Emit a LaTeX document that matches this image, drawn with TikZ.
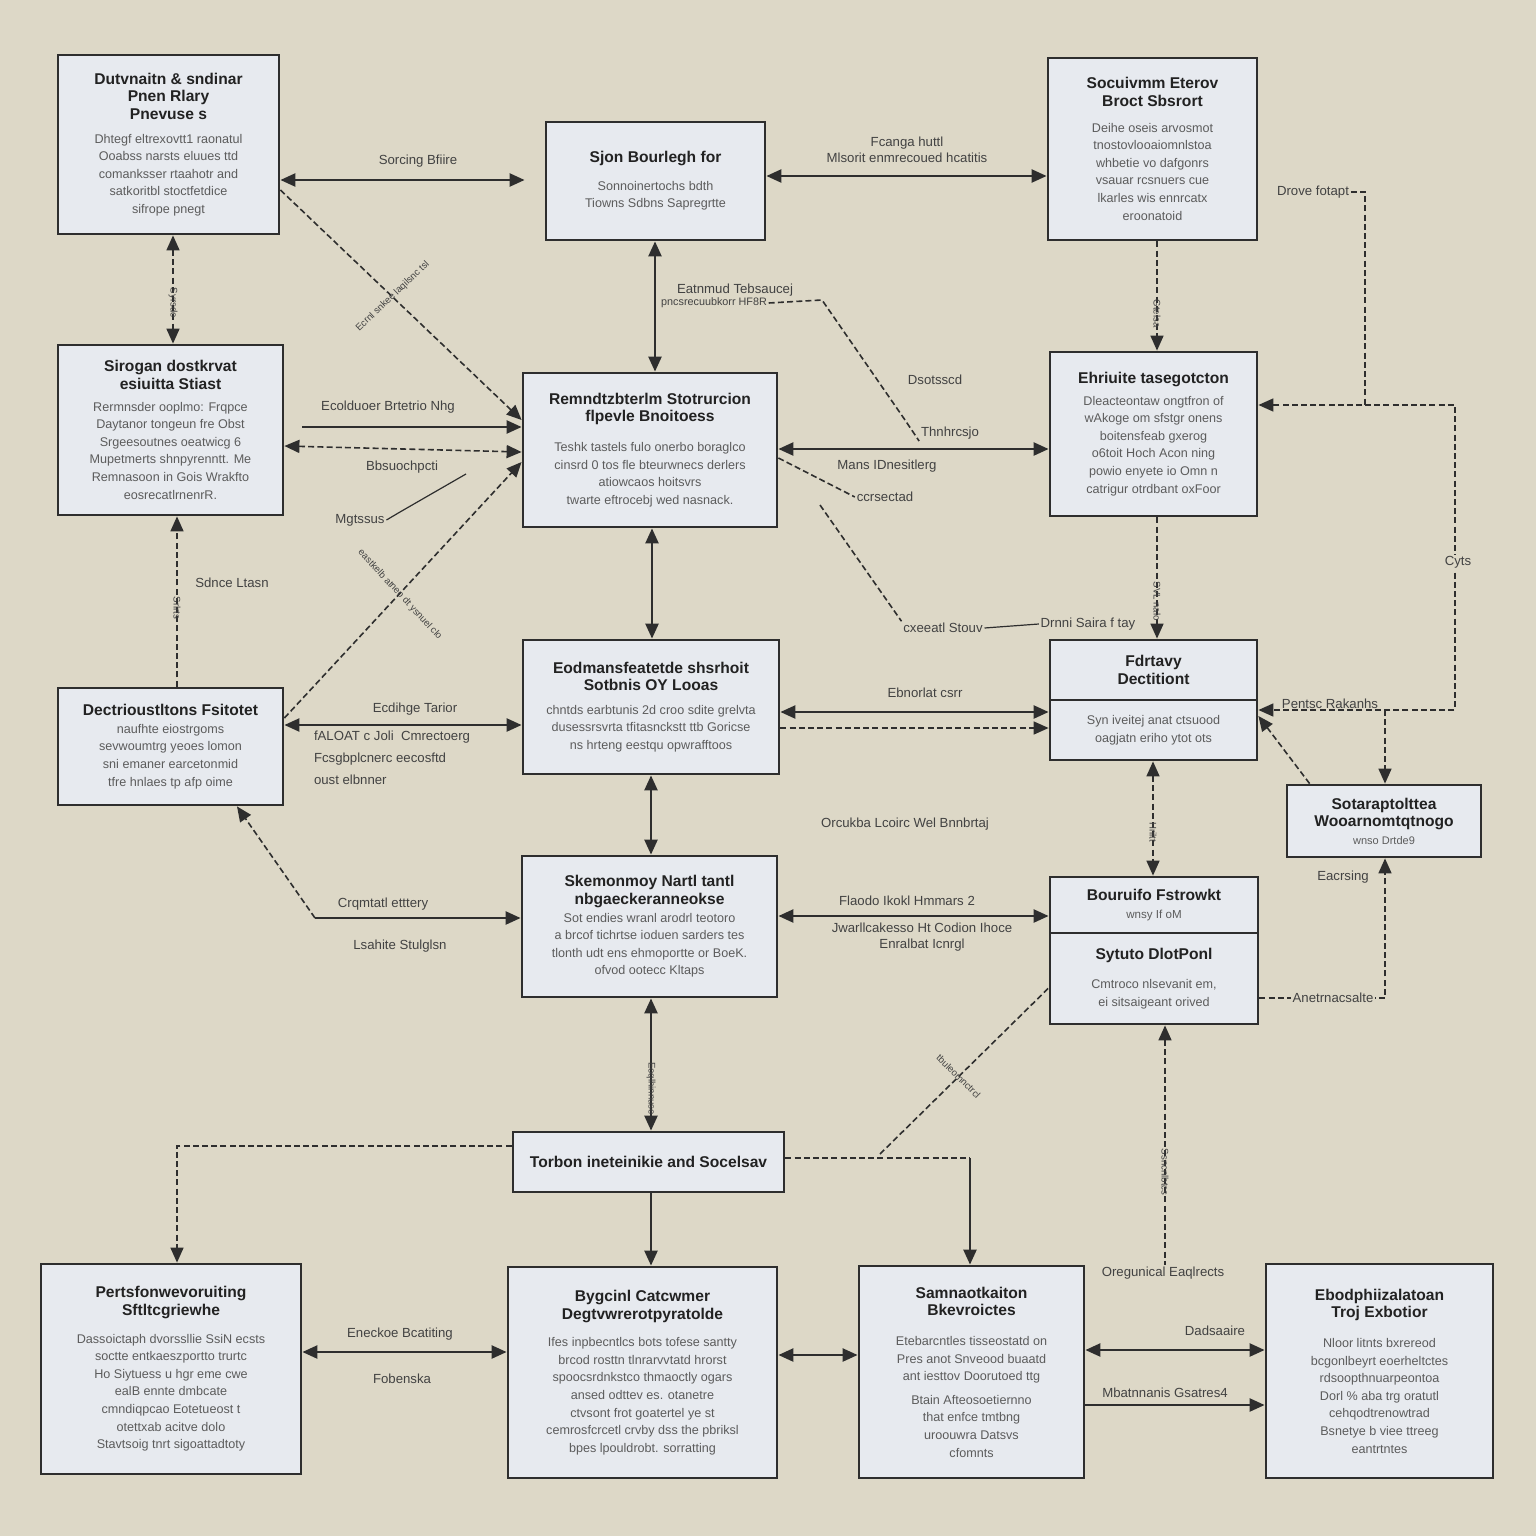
\documentclass[tikz,border=0pt]{standalone}
\usepackage{fontspec}
\setmainfont{Liberation Sans}
\usetikzlibrary{arrows.meta}
\definecolor{paper}{RGB}{221,216,199}
\definecolor{boxfill}{RGB}{231,234,239}
\definecolor{edge}{RGB}{46,46,46}
\definecolor{ink}{RGB}{34,34,34}
\definecolor{grey}{RGB}{92,92,92}
\definecolor{label}{RGB}{66,66,66}
\newcommand{\hd}[1]{{\color{ink}\fontsize{7.8}{9}\selectfont\bfseries #1}}

\begin{document}
\begin{tikzpicture}[x=0.5pt,y=0.5pt,yscale=-1,
    box/.style 2 args={draw=edge,line width=1.4pt,fill=boxfill,align=center,inner sep=2pt,
        minimum width=#1*0.5pt,minimum height=#2*0.5pt,text=grey,
        font=\fontsize{6.3}{8.8}\selectfont},
    lbl/.style={text=label,font=\fontsize{6.6}{8}\selectfont,inner sep=0.75pt,align=center},
    vlbl/.style={text=label,font=\fontsize{4.8}{5}\selectfont,inner sep=0.5pt,rotate=-90},
    link/.style={draw=edge,line width=1.2pt,>={Triangle[length=7.5pt,width=6.5pt]}},
    dlink/.style={link,line width=0.8pt,dash pattern=on 3pt off 1.6pt},
  ]
        %uncomment if require: \path (0,1536); %page is 1536 by 1536
        \fill[paper] (0,0) rectangle (1536,1536);
        \useasboundingbox (0,0) rectangle (1536,1536);

        %Shape: Box [id:A]
        \node[box={221}{179}] (A) at (168.5,144.5) {\hd{Dutvnaitn \& sndinar}\\ \hd{Pnen Rlary}\\ \hd{Pnevuse s}\\[3pt]
            Dhtegf eltrexovtt1 raonatul\\ Ooabss narsts eluues ttd\\ comanksser rtaahotr and\\ satkoritbl stoctfetdice\\ sifrope pnegt};
        %Shape: Box [id:B]
        \node[box={219}{118}] (B) at (655.5,181) {\hd{Sjon Bourlegh for}\\[5pt]
            Sonnoinertochs bdth\\ Tiowns Sdbns Sapregrtte};
        %Shape: Box [id:C]
        \node[box={209}{182}] (C) at (1152.5,149) {\hd{Socuivmm Eterov}\\ \hd{Broct Sbsrort}\\[4pt]
            Deihe oseis arvosmot\\ tnostovlooaiomnlstoa\\ whbetie vo dafgonrs\\ vsauar rcsnuers cue\\ lkarles wis ennrcatx\\ eroonatoid};
        %Shape: Box [id:D]
        \node[box={225}{170}] (D) at (170.5,430) {\hd{Sirogan dostkrvat}\\ \hd{esiuitta Stiast}\\[2pt]
            Rermnsder ooplmo: Frqpce\\ Daytanor tongeun fre Obst\\ Srgeesoutnes oeatwicg 6\\ Mupetmerts shnpyrenntt. Me\\ Remnasoon in Gois Wrakfto\\ eosrecatlrnenrR.};
        %Shape: Box [id:E]
        \node[box={254}{154}] (E) at (650,450) {\hd{Remndtzbterlm Stotrurcion}\\ \hd{flpevle Bnoitoess}\\[6pt]
            Teshk tastels fulo onerbo boraglco\\ cinsrd 0 tos fle bteurwnecs derlers\\ atiowcaos hoitsvrs\\ twarte eftrocebj wed nasnack.};
        %Shape: Box [id:F]
        \node[box={207}{164}] (F) at (1153.5,434) {\hd{Ehriuite tasegotcton}\\[2pt]
            Dleacteontaw ongtfron of\\ wAkoge om sfstgr onens\\ boitensfeab gxerog\\ o6toit Hoch Acon ning\\ powio enyete io Omn n\\ catrigur otrdbant oxFoor};
        %Shape: Box [id:G]
        \node[box={225}{117}] (G) at (170.5,746.5) {\hd{Dectrioustltons Fsitotet}\\
            naufhte eiostrgoms\\ sevwoumtrg yeoes lomon\\ sni emaner earcetonmid\\ tfre hnlaes tp afp oime};
        %Shape: Box [id:H]
        \node[box={256}{134}] (H) at (651,707) {\hd{Eodmansfeatetde shsrhoit}\\ \hd{Sotbnis OY Looas}\\[3pt]
            chntds earbtunis 2d croo sdite grelvta\\ dusessrsvrta tfitasnckstt ttb Goricse\\ ns hrteng eestqu opwrafftoos};
        %Shape: Box [id:It]
        \node[box={207}{60}] (It) at (1153.5,670) {\hd{Fdrtavy}\\ \hd{Dectitiont}};
        %Shape: Box [id:Ib]
        \node[box={207}{60}] (Ib) at (1153.5,730) {Syn iveitej anat ctsuood\\ oagjatn eriho ytot ots};
        %Shape: Box [id:J]
        \node[box={194}{72}] (J) at (1384,821) {\hd{Sotaraptolttea}\\ \hd{Wooarnomtqtnogo}\\ {\fontsize{5.5}{6}\selectfont wnso Drtde9}};
        %Shape: Box [id:K]
        \node[box={255}{141}] (K) at (649.5,926.5) {\hd{Skemonmoy Nartl tantl}\\ \hd{nbgaeckeranneokse}\\
            Sot endies wranl arodrl teotoro\\ a brcof tichrtse ioduen sarders tes\\ tlonth udt ens ehmoportte or BoeK.\\ ofvod ootecc Kltaps};
        %Shape: Box [id:Lt]
        \node[box={208}{56}] (Lt) at (1154,905) {\hd{Bouruifo Fstrowkt}\\ {\fontsize{5.8}{7}\selectfont wnsy If oM}};
        %Shape: Box [id:Lb]
        \node[box={208}{91}] (Lb) at (1154,978.5) {\hd{Sytuto DlotPonl}\\[6pt]
            Cmtroco nlsevanit em,\\ ei sitsaigeant orived};
        %Shape: Box [id:M]
        \node[box={271}{60}] (M) at (648.5,1162) {\hd{Torbon ineteinikie and Socelsav}};
        %Shape: Box [id:N]
        \node[box={260}{210}] (N) at (171,1369) {\hd{Pertsfonwevoruiting}\\ \hd{Sftltcgriewhe}\\[5pt]
            Dassoictaph dvorssllie SsiN ecsts\\ soctte entkaeszportto trurtc\\ Ho Siytuess u hgr eme cwe\\ ealB ennte dmbcate\\ cmndiqpcao Eotetueost t\\ otettxab acitve dolo\\ Stavtsoig tnrt sigoattadtoty};
        %Shape: Box [id:O]
        \node[box={269}{211}] (O) at (642.5,1372.5) {\hd{Bygcinl Catcwmer}\\ \hd{Degtvwrerotpyratolde}\\[5pt]
            Ifes inpbecntlcs bots tofese santty\\ brcod rosttn tlnrarvvtatd hrorst\\ spoocsrdnkstco thmaoctly ogars\\ ansed odttev es. otanetre\\ ctvsont frot goatertel ye st\\ cemrosfcrcetl crvby dss the pbriksl\\ bpes lpouldrobt. sorratting};
        %Shape: Box [id:P]
        \node[box={225}{212}] (P) at (971.5,1372) {\hd{Samnaotkaiton}\\ \hd{Bkevroictes}\\[6pt]
            Etebarcntles tisseostatd on\\ Pres anot Snveood buaatd\\ ant iesttov Doorutoed ttg\\[3pt] Btain Afteosoetiernno\\ that enfce tmtbng\\ uroouwra Datsvs\\ cfomnts};
        %Shape: Box [id:Q]
        \node[box={227}{214}] (Q) at (1379.5,1371) {\hd{Ebodphiizalatoan}\\ \hd{Troj Exbotior}\\[6pt]
            Nloor litnts bxrereod\\ bcgonlbeyrt eoerheltctes\\ rdsoopthnuarpeontoa\\ Dorl \% aba trg oratutl\\ cehqodtrenowtrad\\ Bsnetye b viee ttreeg\\ eantrtntes};

        % Text Node
        \node[lbl] (lAB) at (418,161) {Sorcing Bfiire};
        \node[lbl] (lBC) at (907,150) {Fcanga huttl\\ Mlsorit enmrecoued hcatitis};
        \node[lbl] (dv) at (1313,192) {Drove fotapt};
        \node[lbl] (lBE) at (735,290) {Eatnmud Tebsaucej};
        \node[lbl,font=\fontsize{5.4}{6}\selectfont] (lBE2) at (714,303) {pncsrecuubkorr HF8R};
        \node[lbl] (ds) at (935,380) {Dsotsscd};
        \node[lbl] (th) at (950,433) {Thnhrcsjo};
        \node[lbl] (lDE) at (388,407) {Ecolduoer Brtetrio Nhg};
        \node[lbl] (lDE2) at (402,467) {Bbsuochpcti};
        \node[lbl] (lEF) at (887,466) {Mans IDnesitlerg};
        \node[lbl] (cc) at (885,497) {ccrsectad};
        \node[lbl] (mg) at (360,520) {Mgtssus};
        \node[lbl] (lDG) at (232,583) {Sdnce Ltasn};
        \node[lbl] (cx) at (943,628) {cxeeatl Stouv};
        \node[lbl] (dr) at (1088,624) {Drnni Saira f tay};
        \node[lbl] (lGH) at (415,709) {Ecdihge Tarior};
        \node[lbl,align=left] (lGH2) at (392,758) {fALOAT c Joli \ Cmrectoerg\\[3pt] Fcsgbplcnerc eecosftd\\[3pt] oust elbnner};
        \node[lbl] (lHI) at (925,693) {Ebnorlat csrr};
        \node[lbl] (pr) at (1330,704) {Pentsc Rakanhs};
        \node[lbl] (oc) at (905,824) {Orcukba Lcoirc Wel Bnnbrtaj};
        \node[lbl] (ea) at (1343,877) {Eacrsing};
        \node[lbl] (lGK) at (383,904) {Crqmtatl etttery};
        \node[lbl] (lGK2) at (400,946) {Lsahite Stulglsn};
        \node[lbl] (lKL) at (907,901) {Flaodo Ikokl Hmmars 2};
        \node[lbl] (lKL2) at (922,937) {Jwarllcakesso Ht Codion Ihoce\\ Enralbat Icnrgl};
        \node[lbl] (og) at (1163,1273) {Oregunical Eaqlrects};
        \node[lbl] (lNO) at (400,1334) {Eneckoe Bcatiting};
        \node[lbl] (lNO2) at (402,1379) {Fobenska};
        \node[lbl] (lPQ) at (1215,1331) {Dadsaaire};
        \node[lbl] (lPQ2) at (1165,1393) {Mbatnnanis Gsatres4};

        %Straight Lines [id:AB]
        \draw[link,<->,shorten >=10pt] (A.east |- 0,180) -- (B.west |- 0,180);
        %Straight Lines [id:BC]
        \draw[link,<->] (B.east |- 0,176) -- (C.west |- 0,176);
        %Straight Lines [id:AD]
        \draw[dlink,<->] (A.south -| 173,0) -- (D.north -| 173,0) node[vlbl,pos=0.45,right=1pt] {Syrsde};
        %Straight Lines [id:AE]
        \draw[dlink,->] (A.east |- 0,190) -- (E.west |- 0,420) node[pos=0.5,sloped,above=0pt,text=label,font=\fontsize{4.8}{5}\selectfont] {Ecrnl snkee laqilsnc tsl};
        %Straight Lines [id:DE]
        \draw[link,->,shorten <=9pt] (D.east |- 0,427) -- (E.west |- 0,427);
        \draw[dlink,<->] (D.east |- 0,446) -- (E.west |- 0,452);
        %Straight Lines [id:GE]
        \draw[dlink,->] (G.east |- 0,718) -- (E.west |- 0,462) node[pos=0.45,sloped,above=0pt,text=label,font=\fontsize{4.8}{5}\selectfont] {eastkelb atneo dt ysnuel clo};
        %Straight Lines [id:mg]
        \draw[link,line width=0.6pt] (mg.east) -- (400,512) -- (466,474);
        %Straight Lines [id:DG]
        \draw[dlink,->] (G.north -| 177,0) -- (D.south -| 177,0) node[vlbl,pos=0.55,right=1pt] {Srlrts};
        %Straight Lines [id:BE]
        \draw[link,<->] (B.south -| 655,0) -- (E.north -| 655,0);
        %Straight Lines [id:BEth]
        \draw[dlink] (lBE2.east) -- (822,300) -- (905,420) -- (th.south west);
        %Straight Lines [id:EF]
        \draw[link,<->] (E.east |- 0,449) -- (F.west |- 0,449);
        %Straight Lines [id:Ecx]
        \draw[dlink] (E.east |- 0,458) -- (cc.west) ;
        \draw[dlink] (820,505) -- (cx.north west);
        \draw[link,line width=0.6pt] (cx.east) -- (dr.west);
        %Straight Lines [id:CF]
        \draw[dlink,->] (C.south -| 1157,0) -- (F.north -| 1157,0) node[vlbl,pos=0.5,right=1pt] {Gtelsa};
        %Straight Lines [id:FI]
        \draw[dlink,->] (F.south -| 1157,0) -- (It.north -| 1157,0) node[vlbl,pos=0.5,right=1pt] {SVL nalo};
        %Straight Lines [id:loop]
        \coordinate (jn) at (1365,405);
        \coordinate (jr) at (1455,405);
        \coordinate (jj) at (1385,710);
        \draw[dlink,->] (dv.east) -| (jn) -- (F.east |- jn);
        \draw[dlink,->] (jn) -- (jr) |- (Ib.east |- 0,710);
        \node[lbl,fill=paper] (cy) at (1458,562) {Cyts};
        \draw[dlink,->] (jj) -- (J.north -| jj);
        %Straight Lines [id:JI]
        \draw[dlink,->] ([xshift=12pt]J.north west) -- (Ib.east |- 0,716);
        %Straight Lines [id:HI]
        \draw[link,<->] (H.east |- 0,712) -- (Ib.west |- 0,712);
        \draw[dlink,->] (H.east |- 0,728) -- (Ib.west |- 0,728);
        %Straight Lines [id:EH]
        \draw[link,<->] (E.south -| 652,0) -- (H.north -| 652,0);
        %Straight Lines [id:GH]
        \draw[link,<->] (G.east |- 0,725) -- (H.west |- 0,725);
        %Straight Lines [id:HK]
        \draw[link,<->] (H.south -| 651,0) -- (K.north -| 651,0);
        %Straight Lines [id:IL]
        \draw[dlink,<->] (Ib.south -| 1153,0) -- (Lt.north -| 1153,0) node[vlbl,pos=0.5,right=1pt] {Hriltt};
        %Straight Lines [id:LJ]
        \draw[dlink,->] (Lb.east |- 0,998) -| (J.south -| 1385,0);
        \node[lbl,fill=paper] (an) at (1333,998) {Anetrnacsalte};
        %Straight Lines [id:GK]
        \coordinate (kg) at (315,918);
        \draw[dlink,->] (kg) -- (G.south -| 237,0);
        \draw[link,->] (kg) -- (K.west |- kg);
        %Straight Lines [id:KL]
        \draw[link,<->] (K.east |- 0,916) -- (Lt.west |- 0,916);
        %Straight Lines [id:KM]
        \draw[link,<->] (K.south -| 651,0) -- (M.north -| 651,0) node[vlbl,pos=0.45,right=1pt] {Eoqlhinnuse};
        %Straight Lines [id:ML]
        \draw[dlink] (880,1154) -- (Lb.west |- 0,988) node[pos=0.42,sloped,above=0pt,text=label,font=\fontsize{4.8}{5}\selectfont] {tbuleomnctrcl};
        %Straight Lines [id:MP]
        \coordinate (mp) at (970,1158);
        \draw[dlink] (M.east |- mp) -- (mp);
        \draw[link,->] (mp) -- (P.north -| mp);
        %Straight Lines [id:MN]
        \draw[dlink,->] (M.west |- 0,1146) -| (N.north -| 177,0);
        %Straight Lines [id:MO]
        \draw[link,->] (M.south -| 651,0) -- (O.north -| 651,0);
        %Straight Lines [id:NO]
        \draw[link,<->] (N.east |- 0,1352) -- (O.west |- 0,1352);
        %Straight Lines [id:OP]
        \draw[link,<->] (O.east |- 0,1355) -- (P.west |- 0,1355);
        %Straight Lines [id:PQ]
        \draw[link,<->] (P.east |- 0,1350) -- (Q.west |- 0,1350);
        \draw[link,->] (P.east |- 0,1405) -- (Q.west |- 0,1405);
        %Straight Lines [id:Log]
        \draw[dlink,<-] (Lb.south -| 1165,0) -- (og.north -| 1165,0) node[vlbl,pos=0.5,right=1pt] {Ssncnlbtcs};

\end{tikzpicture}
\end{document}
